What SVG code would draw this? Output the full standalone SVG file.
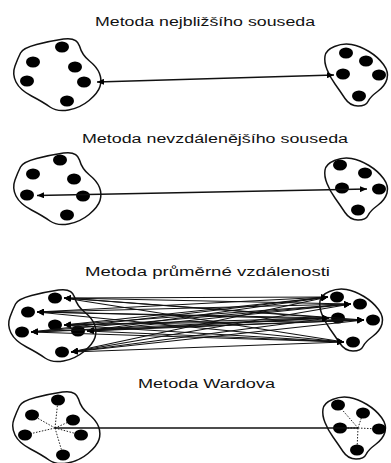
<svg xmlns="http://www.w3.org/2000/svg" width="391" height="463" viewBox="0 0 391 463">
<style>
.title{font-family:"Liberation Sans",Arial,sans-serif;font-size:12px;fill:#111}
.blob{fill:none;stroke:#111;stroke-width:1.5}
.dot{fill:#000}
.link{stroke:#111;stroke-width:1.7;fill:none}
.thin{stroke:#111;stroke-width:1.1;fill:none}
.dotted{stroke:#222;stroke-width:1;stroke-dasharray:1.5,1.5;fill:none}
</style>
<defs>
<marker id="ah" markerUnits="userSpaceOnUse" markerWidth="8" markerHeight="6" refX="7" refY="3" orient="auto-start-reverse">
<path d="M0,0 L7,3 L0,6 Z" fill="#000"/>
</marker>
<path id="lblob" d="M36.5,44.5 Q50,41 63.5,39 Q77,37 79.5,46 Q82,55 89.5,61 Q97,67 99.5,73.5 Q102,80 100,86.5 Q98,93 89,100.5 Q80,108 68.5,110 Q57,112 50,107 Q43,102 31.5,96 Q20,90 16,82 Q12,74 15,66 Q18,58 20.5,53 Q23,48 36.5,44.5 Z"/>
<path id="rblob" d="M334.5,46.5 Q343,43 351.5,44.5 Q360,46 369,51.5 Q378,57 383.5,64.5 Q389,72 387,79 Q385,86 377.5,91.5 Q370,97 368,101.5 Q366,106 358,106 Q350,106 345,98.5 Q340,91 335,84 Q330,77 327,69.5 Q324,62 325,56 Q326,50 334.5,46.5 Z"/>
</defs>
<rect width="391" height="463" fill="#fff"/>

<g id="titles">
<text class="title" x="95" y="26" textLength="220" lengthAdjust="spacingAndGlyphs">Metoda nejbližšího souseda</text>
<text class="title" x="82" y="143" textLength="266" lengthAdjust="spacingAndGlyphs">Metoda nevzdálenějšího souseda</text>
<text class="title" x="85" y="276" textLength="245" lengthAdjust="spacingAndGlyphs">Metoda průměrné vzdálenosti</text>
<text class="title" x="138" y="388" textLength="137" lengthAdjust="spacingAndGlyphs">Metoda Wardova</text>
</g>

<!-- Panel 1 -->
<g id="p1-left">
<use href="#lblob" class="blob"/>
<ellipse class="dot" cx="62" cy="47" rx="7" ry="5.5"/>
<ellipse class="dot" cx="33" cy="62" rx="7" ry="5.5"/>
<ellipse class="dot" cx="75" cy="67" rx="7" ry="5.5"/>
<ellipse class="dot" cx="27" cy="81" rx="7" ry="5.5"/>
<ellipse class="dot" cx="84" cy="82" rx="7" ry="5.5"/>
<ellipse class="dot" cx="67" cy="101" rx="7" ry="5.5"/>
</g>
<g id="p1-right">
<use href="#rblob" class="blob"/>
<ellipse class="dot" cx="346" cy="53" rx="7" ry="5.5"/>
<ellipse class="dot" cx="366" cy="61" rx="7" ry="5.5"/>
<ellipse class="dot" cx="343" cy="74" rx="7" ry="5.5"/>
<ellipse class="dot" cx="379" cy="75" rx="7" ry="5.5"/>
<ellipse class="dot" cx="359" cy="96" rx="7" ry="5.5"/>
</g>

<!-- Panel 2 -->
<g id="p2-left">
<use href="#lblob" class="blob" transform="translate(0,114)"/>
<ellipse class="dot" cx="60" cy="160" rx="7" ry="5.5"/>
<ellipse class="dot" cx="33" cy="174" rx="7" ry="5.5"/>
<ellipse class="dot" cx="74" cy="179" rx="7" ry="5.5"/>
<ellipse class="dot" cx="27" cy="195" rx="7" ry="5.5"/>
<ellipse class="dot" cx="83" cy="196" rx="7" ry="5.5"/>
<ellipse class="dot" cx="67" cy="215" rx="7" ry="5.5"/>
</g>
<g id="p2-right">
<use href="#rblob" class="blob" transform="translate(0,114)"/>
<ellipse class="dot" cx="340" cy="165" rx="7" ry="5.5"/>
<ellipse class="dot" cx="365" cy="173" rx="7" ry="5.5"/>
<ellipse class="dot" cx="342" cy="188" rx="7" ry="5.5"/>
<ellipse class="dot" cx="379" cy="189" rx="7" ry="5.5"/>
<ellipse class="dot" cx="358" cy="210" rx="7" ry="5.5"/>
</g>

<!-- Panel 3 -->
<g id="p3-left">
<use href="#lblob" class="blob" transform="translate(-5,251)"/>
<ellipse class="dot" cx="55" cy="298" rx="7" ry="5.5"/>
<ellipse class="dot" cx="28" cy="312" rx="7" ry="5.5"/>
<ellipse class="dot" cx="55" cy="325" rx="7" ry="5.5"/>
<ellipse class="dot" cx="78" cy="331" rx="7" ry="5.5"/>
<ellipse class="dot" cx="22" cy="332" rx="7" ry="5.5"/>
<ellipse class="dot" cx="62" cy="352" rx="7" ry="5.5"/>
</g>
<g id="p3-right">
<use href="#rblob" class="blob" transform="translate(-5,245)"/>
<ellipse class="dot" cx="337" cy="297" rx="7" ry="5.5"/>
<ellipse class="dot" cx="360" cy="304" rx="7" ry="5.5"/>
<ellipse class="dot" cx="338" cy="318" rx="7" ry="5.5"/>
<ellipse class="dot" cx="373" cy="320" rx="7" ry="5.5"/>
<ellipse class="dot" cx="353" cy="342" rx="7" ry="5.5"/>
</g>

<!-- Panel 4 -->
<g id="p4-left">
<use href="#lblob" class="blob" transform="translate(-1,353)"/>
<g class="dotted">
<line x1="55" y1="428" x2="58" y2="400"/>
<line x1="55" y1="428" x2="32" y2="415"/>
<line x1="55" y1="428" x2="73" y2="420"/>
<line x1="55" y1="428" x2="25" y2="435"/>
<line x1="55" y1="428" x2="81" y2="435"/>
<line x1="55" y1="428" x2="63" y2="455"/>
</g>
<ellipse class="dot" cx="58" cy="400" rx="7" ry="5.5"/>
<ellipse class="dot" cx="32" cy="415" rx="7" ry="5.5"/>
<ellipse class="dot" cx="73" cy="420" rx="7" ry="5.5"/>
<ellipse class="dot" cx="25" cy="435" rx="7" ry="5.5"/>
<ellipse class="dot" cx="81" cy="435" rx="7" ry="5.5"/>
<ellipse class="dot" cx="63" cy="455" rx="7" ry="5.5"/>
</g>
<g id="p4-right">
<use href="#rblob" class="blob" transform="translate(-2,353)"/>
<g class="dotted">
<line x1="358" y1="428" x2="338" y2="405"/>
<line x1="358" y1="428" x2="363" y2="413"/>
<line x1="358" y1="428" x2="340" y2="428"/>
<line x1="358" y1="428" x2="379" y2="429"/>
<line x1="358" y1="428" x2="357" y2="450"/>
</g>
<ellipse class="dot" cx="338" cy="405" rx="7" ry="5.5"/>
<ellipse class="dot" cx="363" cy="413" rx="7" ry="5.5"/>
<ellipse class="dot" cx="340" cy="428" rx="7" ry="5.5"/>
<ellipse class="dot" cx="379" cy="429" rx="7" ry="5.5"/>
<ellipse class="dot" cx="357" cy="450" rx="7" ry="5.5"/>
</g>

<g id="connectors">
<line class="link" x1="97" y1="82" x2="334" y2="75" marker-start="url(#ah)" marker-end="url(#ah)"/>
<line class="link" x1="37" y1="195.5" x2="367" y2="189" marker-start="url(#ah)" marker-end="url(#ah)"/>
<g class="thin" marker-start="url(#ah)" marker-end="url(#ah)">
<line x1="64" y1="298" x2="328" y2="297"/><line x1="64" y1="298" x2="351" y2="304"/><line x1="64" y1="298" x2="329" y2="318"/><line x1="64" y1="298" x2="364" y2="320"/><line x1="64" y1="298" x2="344" y2="342"/>
<line x1="37" y1="312" x2="328" y2="297"/><line x1="37" y1="312" x2="351" y2="304"/><line x1="37" y1="312" x2="329" y2="318"/><line x1="37" y1="312" x2="364" y2="320"/><line x1="37" y1="312" x2="344" y2="342"/>
<line x1="64" y1="325" x2="328" y2="297"/><line x1="64" y1="325" x2="351" y2="304"/><line x1="64" y1="325" x2="329" y2="318"/><line x1="64" y1="325" x2="364" y2="320"/><line x1="64" y1="325" x2="344" y2="342"/>
<line x1="87" y1="331" x2="328" y2="297"/><line x1="87" y1="331" x2="351" y2="304"/><line x1="87" y1="331" x2="329" y2="318"/><line x1="87" y1="331" x2="364" y2="320"/><line x1="87" y1="331" x2="344" y2="342"/>
<line x1="31" y1="332" x2="328" y2="297"/><line x1="31" y1="332" x2="351" y2="304"/><line x1="31" y1="332" x2="329" y2="318"/><line x1="31" y1="332" x2="364" y2="320"/><line x1="31" y1="332" x2="344" y2="342"/>
<line x1="71" y1="352" x2="328" y2="297"/><line x1="71" y1="352" x2="351" y2="304"/><line x1="71" y1="352" x2="329" y2="318"/><line x1="71" y1="352" x2="364" y2="320"/><line x1="71" y1="352" x2="344" y2="342"/>
</g>
<line class="link" x1="55" y1="428" x2="358" y2="428"/>
</g>
</svg>
